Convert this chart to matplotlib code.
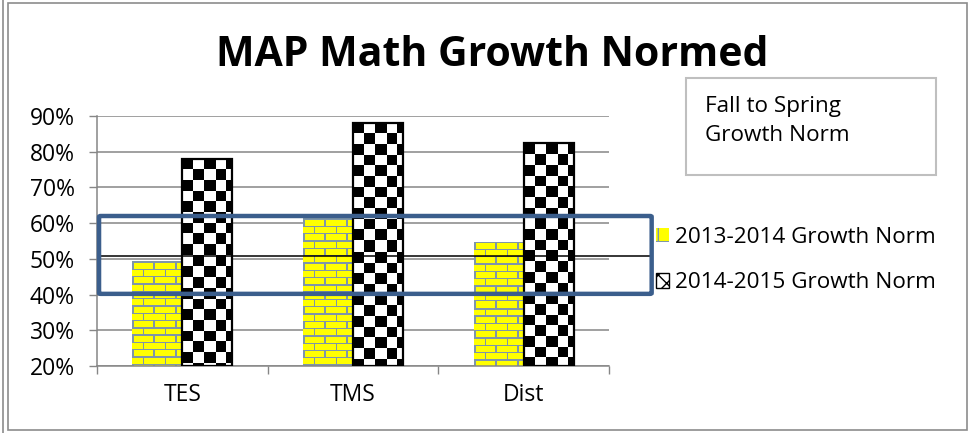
import numpy as np
import matplotlib
matplotlib.use("Agg")
import matplotlib.pyplot as plt
from matplotlib.patches import Rectangle, FancyBboxPatch, Patch
from matplotlib.ticker import PercentFormatter

categories = ["TES", "TMS", "Dist"]
series_names = ["2013-2014 Growth Norm", "2014-2015 Growth Norm"]
growth_2013_2014 = [0.494, 0.614, 0.548]
growth_2014_2015 = [0.780, 0.881, 0.824]
y_ticks = [0.2, 0.3, 0.4, 0.5, 0.6, 0.7, 0.8, 0.9]
highlight_low, highlight_high, highlight_mid = 0.402, 0.620, 0.509
title = "MAP Math Growth Normed"
note_text = "Fall to Spring\nGrowth Norm"

FONT = "Open Sans"
FS_TICK = 16.5
FS_LEG = 16.2
W, H = 973, 433
fig = plt.figure(figsize=(W / 100, H / 100), dpi=100)

def fx(px):
    return px / W

def fy(py):
    return 1 - py / H

ax = fig.add_axes([fx(97), fy(366), fx(609) - fx(97), fy(116) - fy(366)])
ax.set_xlim(-0.5, 2.5)
ax.set_ylim(0.2, 0.9)

x = np.arange(len(categories))
bw = 0.293
bars1 = ax.bar(x - bw / 2, [v - 0.2 for v in growth_2013_2014], bw, bottom=0.2,
               color="none", edgecolor="none", zorder=3)
bars2 = ax.bar(x + bw / 2, [v - 0.2 for v in growth_2014_2015], bw, bottom=0.2,
               color="none", edgecolor="black", linewidth=1.6, zorder=4)

def px_size(x0, y0, x1, y1):
    a = ax.transData.transform((x0, y0))
    b = ax.transData.transform((x1, y1))
    return abs(b[0] - a[0]), abs(b[1] - a[1])

def checker(wpx, hpx, cell=10.7):
    wpx, hpx = int(round(wpx)), int(round(hpx))
    j = np.arange(wpx)[None, :]
    i = np.arange(hpx)[:, None]
    c = ((np.floor(i / cell) + np.floor(j / cell)) % 2).astype(float)
    img = np.ones((hpx, wpx, 3))
    img[c == 0] = 0.0
    return img

def brick(wpx, hpx, rowh=7.3, blen=21.0):
    wpx, hpx = int(round(wpx)), int(round(hpx))
    img = np.zeros((hpx, wpx, 3))
    img[:] = (1.0, 1.0, 0.0)
    mortar = np.array([0.50, 0.59, 0.66])
    for i in range(hpx):
        r = int(i // rowh)
        fr = i - r * rowh
        if fr < 1.3:
            img[i, :] = mortar
            continue
        off = (blen / 2) * (r % 2)
        for j in range(wpx):
            if ((j + off) % blen) < 1.3:
                img[i, j] = mortar
    return img

for bars, maker, z in ((bars1, brick, 2.5), (bars2, checker, 3.5)):
    for b in bars:
        x0, y0 = b.get_x(), b.get_y()
        x1, y1 = x0 + b.get_width(), y0 + b.get_height()
        wp, hp = px_size(x0, y0, x1, y1)
        img = maker(wp, hp)
        im = ax.imshow(img, extent=(x0, x1, y0, y1), origin="upper",
                       interpolation="nearest", aspect="auto", zorder=z)
        im.set_clip_path(b)

ax.set_xlim(-0.5, 2.5)
ax.set_ylim(0.2, 0.9)

ax.set_yticks(y_ticks)
ax.yaxis.set_major_formatter(PercentFormatter(1.0, decimals=0))
ax.set_xticks([-0.5, 0.5, 1.5, 2.5], minor=False)
ax.set_xticklabels([])
ax.set_xticks(x, minor=True)
ax.set_xticklabels(categories, minor=True)
ax.tick_params(axis="x", which="minor", length=0, pad=12, labelsize=FS_TICK)
ax.tick_params(axis="x", which="major", length=6, color="#868686", width=1)
ax.tick_params(axis="y", length=6, color="#868686", width=1, labelsize=FS_TICK, pad=10)
for lab in ax.get_xticklabels(minor=True) + ax.get_yticklabels():
    lab.set_family(FONT)

ax.grid(axis="y", color="#868686", linewidth=1.1, zorder=0)
ax.set_axisbelow(True)
for s in ("top", "right"):
    ax.spines[s].set_visible(False)
for s in ("left", "bottom"):
    ax.spines[s].set_color("#868686")
    ax.spines[s].set_linewidth(1.1)

# highlight box and mid line
x_right = 2.75
hl = FancyBboxPatch((-0.488, highlight_low), x_right + 0.488, highlight_high - highlight_low,
                    boxstyle="round,pad=0,rounding_size=0.01", fill=False,
                    edgecolor="#3b5e8c", linewidth=3.2, clip_on=False, zorder=6,
                    mutation_aspect=0.25)
ax.add_patch(hl)
ax.plot([-0.488, x_right], [highlight_mid, highlight_mid], color="black",
        linewidth=1.1, clip_on=False, zorder=5)

# title
fig.text(fx(492), fy(56), title, ha="center", va="center", fontsize=29.5,
         fontweight="bold", family=FONT)

# note box
fig.patches.append(Rectangle((fx(686), fy(175)), fx(936) - fx(686), fy(78) - fy(175),
                             transform=fig.transFigure, fill=False,
                             edgecolor="#bfbfbf", linewidth=1.5))
fig.text(fx(705), fy(121), note_text, ha="left", va="center", fontsize=FS_LEG,
         family=FONT, linespacing=1.45)

# legend
handles = [Patch(facecolor="yellow", edgecolor="#7f97a8", hatch="+", linewidth=0),
           Patch(facecolor="white", edgecolor="black", hatch="XX", linewidth=1)]
leg = fig.legend(handles, series_names, loc="center left",
                 bbox_to_anchor=(fx(636), fy(260)), frameon=False,
                 handlelength=0.55, handleheight=0.6, handletextpad=0.3,
                 labelspacing=1.1, prop={"family": FONT, "size": FS_LEG})

# outer frame
fig.patches.append(Rectangle((fx(8), fy(430)), fx(967) - fx(8), fy(3) - fy(430),
                             transform=fig.transFigure, fill=False,
                             edgecolor="#8c8c8c", linewidth=1.2))
fig.lines.append(plt.Line2D([fx(2.5), fx(2.5)], [0, 1], transform=fig.transFigure,
                            color="#8c8c8c", linewidth=1.2))

fig.savefig("out.png", dpi=100)
